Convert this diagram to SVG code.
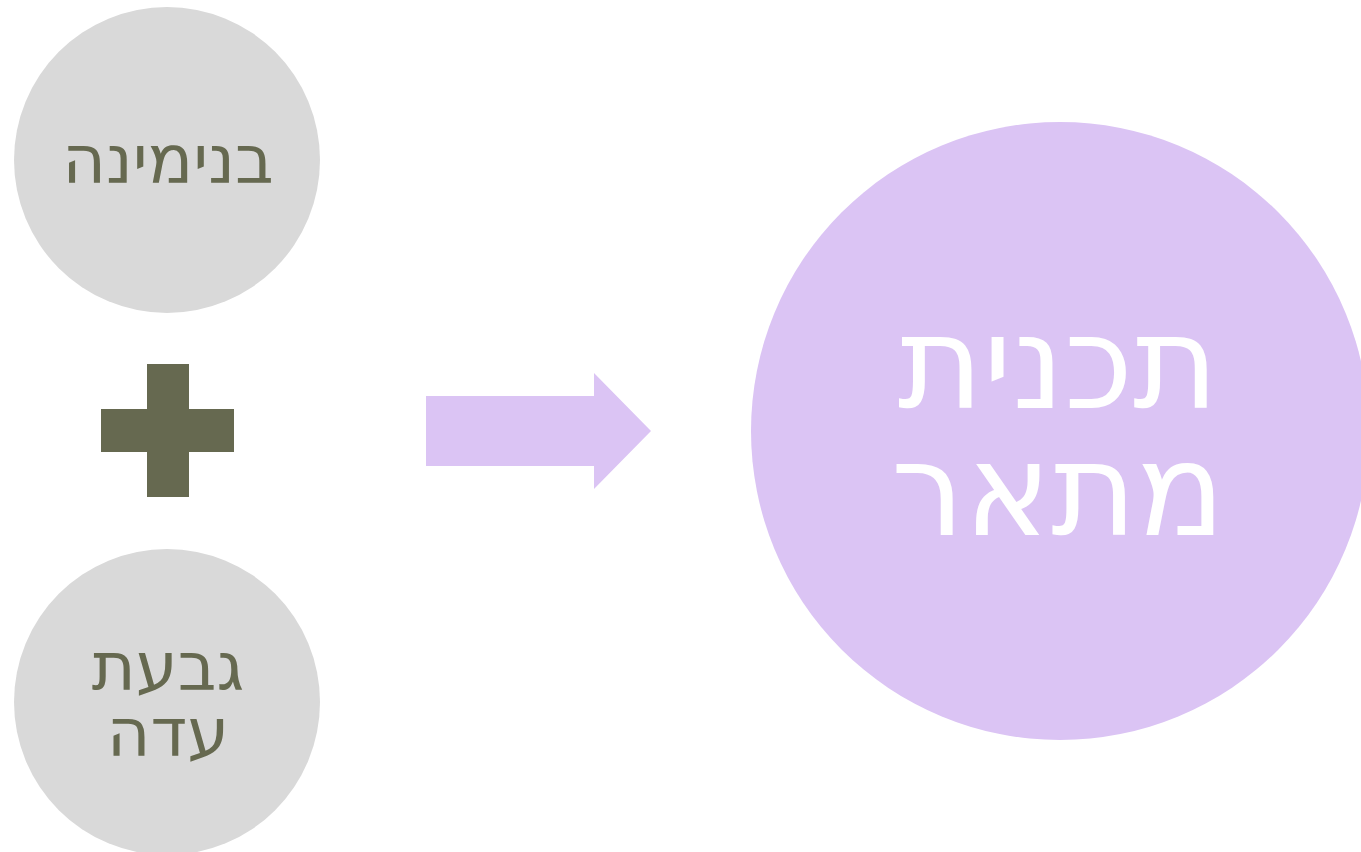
<svg xmlns="http://www.w3.org/2000/svg" width="1361" height="852" viewBox="0 0 1361 852">
<style>
.small{fill:#D9D9D9}
.big{fill:#DBC4F4}
.t1{font-family:"DejaVu Sans",sans-serif;font-size:67px;fill:#666950;text-anchor:middle}
.t2{font-family:"DejaVu Sans",sans-serif;font-size:130px;fill:#FFFFFF;text-anchor:middle}
</style>
<rect width="1361" height="852" fill="#FFFFFF"/>
<g id="node-binyamina">
<circle class="small" cx="167" cy="160" r="153"/>
<text class="t1" x="168" y="183">בנימינה</text>
</g>
<g id="node-givat-ada">
<circle class="small" cx="167" cy="702" r="153"/>
<text class="t1" x="168" y="690">גבעת</text>
<text class="t1" x="168" y="756">עדה</text>
</g>
<g id="plus">
<rect x="101" y="409" width="133" height="43" fill="#666950"/>
<rect x="147" y="364" width="42" height="133" fill="#666950"/>
</g>
<g id="connectors">
<polygon points="426,396 594,396 594,373 651,431 594,489 594,466 426,466" fill="#DBC4F4"/>
</g>
<g id="node-tochnit-mitar">
<circle class="big" cx="1060" cy="431" r="309"/>
<text class="t2" x="1058" y="408">תכנית</text>
<text class="t2" x="1058" y="535">מתאר</text>
</g>
</svg>
